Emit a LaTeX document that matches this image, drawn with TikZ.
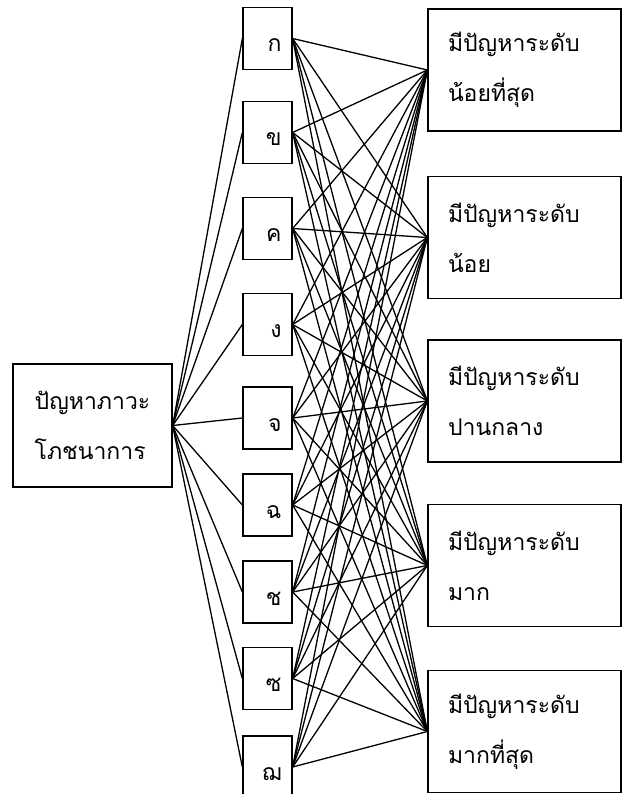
\documentclass[tikz,border=0pt]{standalone}
\usepackage{fontspec}
\newfontfamily\thaifont[Script=Thai]{Loma}

\begin{document}
\begin{tikzpicture}[x=1pt,y=-1pt,line width=1.3pt,
  thai/.style={font=\thaifont\fontsize{23}{50}\selectfont},
  letterbox/.style={draw,rectangle,thai,text height=26pt,text depth=0pt,text width=28pt,align=right,minimum width=49pt,minimum height=62pt,inner sep=0pt},
  levelbox/.style={draw,rectangle,thai,align=left,text width=153pt,minimum width=193pt,minimum height=122pt,inner sep=0pt}]
\clip (0,0) rectangle (623,794);
\node[draw,rectangle,thai,align=left,minimum width=159pt,minimum height=123pt] (cause) at (92.5,425.5) {ปัญหาภาวะ\\โภชนาการ};
\node[letterbox] (k1) at (267.5,38.5) {ก};
\node[letterbox] (k2) at (267.5,132.5) {ข};
\node[letterbox] (k3) at (267.5,228.5) {ค};
\node[letterbox] (k4) at (267.5,324.5) {ง};
\node[letterbox] (k5) at (267.5,418) {จ};
\node[letterbox] (k6) at (267.5,505) {ฉ};
\node[letterbox] (k7) at (267.5,592) {ช};
\node[letterbox] (k8) at (267.5,678.5) {ซ};
\node[letterbox] (k9) at (267.5,767) {ฌ};
\node[levelbox] (lv1) at (524.5,70) {มีปัญหาระดับ\\น้อยที่สุด};
\node[levelbox] (lv2) at (524.5,237.5) {มีปัญหาระดับ\\น้อย};
\node[levelbox] (lv3) at (524.5,401) {มีปัญหาระดับ\\ปานกลาง};
\node[levelbox] (lv4) at (524.5,565.5) {มีปัญหาระดับ\\มาก};
\node[levelbox] (lv5) at (524.5,731.5) {มีปัญหาระดับ\\มากที่สุด};
% left box to each letter
\foreach \i in {1,...,9}
  \draw (cause.east) -- (k\i.west);
% every letter to every level
\foreach \i in {1,...,9}
  \foreach \j in {1,...,5}
    \draw (k\i.east) -- (lv\j.west);
\end{tikzpicture}
\end{document}
